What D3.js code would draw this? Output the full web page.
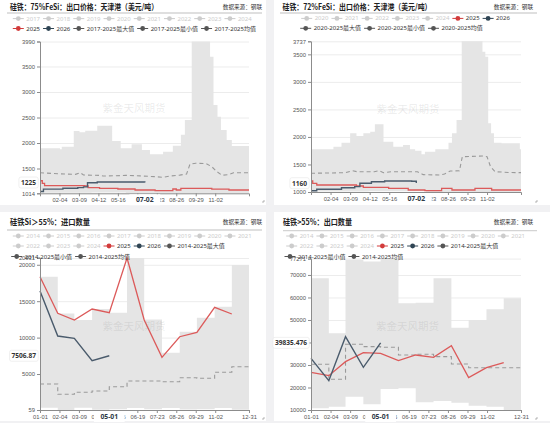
<!DOCTYPE html>
<html>
<head>
<meta charset="utf-8">
<script src="https://cdn.jsdelivr.net/npm/d3@7"></script>
<style>
  body { margin: 0; background: #f1f1f3; }
  svg { display: block; font-family: "Noto Sans", "Noto Sans CJK SC", sans-serif; }
</style>
</head>
<body>
<svg id="chart" width="550" height="423"></svg>
<script>
// ---------- data ----------
// day index in a 366-day calendar (01-01 = 0)
const monthStart = [0, 31, 60, 91, 121, 152, 182, 213, 244, 274, 305, 335];

const topTickDays = [34, 68, 102, 136, 170, 204, 238, 272, 306];
const topTickLabels = ["02-04", "03-09", "04-12", "05-16", "06-19", "07-23", "08-26", "09-29", "11-02"];
const bottomTickDays = [0, 34, 68, 102, 136, 170, 204, 238, 272, 306, 365];
const bottomTickLabels = ["01-01", "02-04", "03-09", "04-12", "05-16", "06-19", "07-23", "08-26", "09-29", "11-02", "12-31"];

// 75%FeSi export price, [day, value] change points
const fesi75Ticks = [1014, 1500, 2000, 2500, 3000, 3500, 3990];
const fesi75Max = [[0,1896],[35,1877],[38,1928],[59,2235],[69,2210],[79,2241],[100,2340],[126,2040],[141,1896],[160,1975],[178,1863],[192,1779],[215,1830],[232,1947],[246,2160],[253,2450],[265,3990],[297,3692],[303,2745],[310,2516],[316,2255],[326,2059],[335,1941],[365,1941]];
const fesi75Min = [[0,1025],[90,1030],[150,1020],[200,1014],[365,1014]];
const fesi75Mean = [[0,1418],[10,1410],[35,1395],[62,1386],[70,1418],[76,1373],[105,1365],[110,1353],[140,1360],[150,1367],[175,1355],[200,1340],[215,1328],[228,1353],[244,1370],[256,1392],[262,1588],[272,1602],[290,1598],[300,1536],[309,1437],[318,1367],[330,1380],[338,1418],[365,1418]];
const fesi75Y2025 = [[0,1260],[4,1210],[8,1163],[78,1157],[84,1124],[104,1112],[136,1098],[166,1079],[201,1065],[232,1098],[238,1079],[246,1112],[280,1112],[300,1095],[330,1079],[365,1079]];
const fesi75Y2026 = [[0,1050],[6,1095],[40,1112],[66,1125],[76,1140],[83,1222],[100,1235],[182,1235],[183,1225]];

// 72%FeSi export price
const fesi72Ticks = [1000, 1500, 2000, 2500, 3000, 3500, 3737];
const fesi72Max = [[0,1775],[39,1823],[53,1895],[68,2066],[79,2017],[91,2066],[103,2096],[111,2230],[126,1914],[143,1823],[160,1854],[172,1775],[181,1750],[192,1685],[198,1732],[216,1775],[239,1895],[245,2066],[253,2308],[262,3737],[298,3548],[303,3457],[308,2250],[313,2066],[318,1895],[331,1884],[363,1775],[365,1775]];
const fesi72Min = [[0,1010],[100,1012],[200,1000],[365,1000]];
const fesi72Mean = [[0,1340],[30,1345],[60,1351],[72,1387],[80,1369],[110,1369],[118,1387],[126,1351],[141,1369],[185,1369],[195,1315],[225,1309],[232,1327],[242,1381],[258,1385],[263,1641],[300,1654],[306,1640],[312,1460],[320,1369],[343,1355],[365,1351]];
const fesi72Y2025 = [[0,1200],[3,1158],[10,1127],[79,1109],[91,1085],[135,1067],[169,1036],[198,1024],[227,1067],[245,1036],[285,1067],[314,1036],[365,1036]];
const fesi72Y2026 = [[0,1024],[10,1049],[53,1078],[76,1097],[85,1158],[105,1187],[128,1200],[175,1195],[183,1165]];

// Si>55% imports, monthly
const importTicks = [59, 5000, 10000, 15000, 20000, 20931];
const importMax = [18360, 13300, 12420, 13930, 13420, 20931, 12500, 7925, 10810, 12730, 14240, 19970];
const importMin = [380, 59, 360, 100, 150, 320, 150, 330, 120, 150, 350, 100];
const importMean = [3629, 2215, 2490, 2668, 3258, 4040, 4040, 3945, 4494, 4410, 5235, 6004];
const import2025 = [18360, 13336, 12416, 13927, 13420, 20931, 12416, 7295, 10123, 10727, 14160, 13240];
const import2026 = [16398, 10220, 9904, 6826, 7506.87];

// Si>55% exports, monthly
const exportTicks = [10000, 20000, 30000, 40000, 50000, 60000, 70000, 77271];
const exportMax = [68530, 44070, 76800, 76000, 77271, 57400, 57600, 68530, 46580, 50000, 54750, 59640];
const exportMin = [10750, 11480, 15920, 12520, 19330, 19630, 13400, 14000, 13200, 11930, 11480, 10000];
const exportMean = [30300, 23630, 39200, 38150, 37850, 34440, 34740, 33700, 30440, 28800, 28800, 28800];
const export2025 = [26740, 25250, 31480, 35480, 35180, 31920, 34440, 33400, 38580, 24360, 28800, 31040];
const export2026 = [32960, 23030, 42580, 28980, 39835.476];

// legends: kind off / r / n / s
const legend75 = [
  [["2017","off"],["2018","off"],["2019","off"],["2020","off"],["2021","off"],["2022","off"],["2023","off"],["2024","off"]],
  [["2025","r"],["2026","n"],["2017-2025最大值","s"],["2017-2025最小值","s"],["2017-2025均值","s"]]
];
const legend72 = [
  [["2020","off"],["2021","off"],["2022","off"],["2023","off"],["2024","off"],["2025","r"],["2026","n"]],
  [["2020-2025最大值","s"],["2020-2025最小值","s"],["2020-2025均值","s"]]
];
const legendSi = [
  [["2014","off"],["2015","off"],["2016","off"],["2017","off"],["2018","off"],["2019","off"],["2020","off"],["2021","off"]],
  [["2022","off"],["2023","off"],["2024","off"],["2025","r"],["2026","n"],["2014-2025最大值","s"]],
  [["2014-2025最小值","s"],["2014-2025均值","s"]]
];

// ---------- helpers ----------
const RED = "#dc5a5a", NAVY = "#4a5b6c", GRAY = "#e5e5e5";
const svg = d3.select("#chart");

const monthlySteps = arr => arr.map((v, i) => [monthStart[i], v]).concat([[365, arr[arr.length - 1]]]);
const monthlyPoints = arr => arr.map((v, i) => [monthStart[i], v]);

function drawPanel(p) {
  const g = svg.append("g");
  g.append("rect").attr("x", p.box[0]).attr("y", p.box[1])
    .attr("width", p.box[2]).attr("height", p.box[3]).attr("fill", "#fff");

  // header
  g.append("text").attr("x", p.titleX).attr("y", p.titleY)
    .attr("font-family", "'Noto Sans CJK SC', sans-serif")
    .attr("font-size", 8.2).attr("font-weight", 700).attr("fill", "#222")
    .attr("textLength", p.titleW).attr("lengthAdjust", "spacingAndGlyphs").text(p.title);
  g.append("text").attr("x", p.sourceX).attr("y", p.titleY - 1.5).attr("text-anchor", "end")
    .attr("font-family", "'Noto Sans CJK SC', sans-serif")
    .attr("font-size", 5.6).attr("fill", "#333").text("数据来源：钢联");
  g.append("line").attr("x1", p.lineX[0]).attr("x2", p.lineX[1])
    .attr("y1", p.lineY).attr("y2", p.lineY).attr("stroke", "#d4d4d4").attr("stroke-width", 1.3);

  const x = d3.scaleLinear().domain([0, 365]).range([p.plot.x0, p.plot.x1]);
  const y = d3.scaleLinear().domain([p.ticks[0], p.ticks[p.ticks.length - 1]]).range([p.plot.y0, p.plot.y1]);
  const w = p.plot.x1 - p.plot.x0;

  // grid
  g.append("g").attr("transform", `translate(${p.plot.x0},0)`)
    .call(d3.axisLeft(y).tickValues(p.ticks.slice(1)).tickSize(-w).tickFormat(""))
    .call(a => a.select(".domain").remove())
    .call(a => a.selectAll("line").attr("stroke", "#ececec"));

  const area = d3.area().x(d => x(d[0])).y0(p.plot.y0).y1(d => y(d[1])).curve(d3.curveStepAfter);
  g.append("path").datum(p.max).attr("d", area).attr("fill", GRAY);
  g.append("path").datum(p.min).attr("d", area).attr("fill", "#fff");

  const line = c => d3.line().x(d => x(d[0])).y(d => y(d[1])).curve(c);
  g.append("path").datum(p.mean).attr("d", line(p.meanCurve)).attr("fill", "none")
    .attr("stroke", "#9a9a9a").attr("stroke-width", 1.1).attr("stroke-dasharray", "4,3");
  g.append("path").datum(p.y2025).attr("d", line(p.yearCurve)).attr("fill", "none")
    .attr("stroke", RED).attr("stroke-width", 1.3);
  g.append("path").datum(p.y2026).attr("d", line(p.yearCurve)).attr("fill", "none")
    .attr("stroke", NAVY).attr("stroke-width", 1.4);

  // axes (labels hidden under the pointer labels are left out)
  const px = x(p.pointerDay), py = y(p.pointerY);
  const yAxis = g.append("g").attr("transform", `translate(${p.plot.x0},0)`)
    .call(d3.axisLeft(y).tickValues(p.ticks).tickSize(3).tickPadding(2)
      .tickFormat(d => Math.abs(y(d) - py) < 5 ? "" : d));
  const xAxis = g.append("g").attr("transform", `translate(0,${p.plot.y0})`)
    .call(d3.axisBottom(x).tickValues(p.xDays).tickSize(3).tickPadding(2)
      .tickFormat((d, i) => Math.abs(x(d) - px) < 8 ? "" : p.xLabels[i]));
  [yAxis, xAxis].forEach(a => {
    a.select(".domain").attr("stroke", "#8c8c8c");
    a.selectAll(".tick line").attr("stroke", "#8c8c8c");
    a.selectAll("text").attr("font-size", 5.8).attr("fill", "#555");
  });

  // watermark
  g.append("text").attr("x", p.mark[0]).attr("y", p.mark[1]).attr("text-anchor", "middle")
    .attr("dominant-baseline", "central")
    .attr("font-family", "'Noto Sans CJK SC', sans-serif")
    .attr("font-size", 10.5).attr("fill", "rgba(130,130,130,0.17)").text("紫金天风期货");

  // axis pointer labels
  const yl = g.append("g");
  const yt = yl.append("text").attr("x", p.plot.x0 - 4).attr("y", py)
    .attr("text-anchor", "end").attr("dominant-baseline", "central")
    .attr("font-size", 6.6).attr("font-weight", 700).attr("fill", "#333").text(p.pointerY);
  const yb = yt.node().getBBox();
  yl.insert("rect", "text").attr("x", yb.x - 2).attr("y", yb.y - 1)
    .attr("width", yb.width + 4).attr("height", yb.height + 2).attr("rx", 2)
    .attr("fill", "#fff").attr("stroke", "#e6e6e6").attr("stroke-width", 0.6);

  const xl = g.append("g");
  const xt = xl.append("text").attr("x", px).attr("y", p.plot.y0 + 6.3)
    .attr("text-anchor", "middle").attr("dominant-baseline", "central")
    .attr("font-size", 6.8).attr("font-weight", 700).attr("fill", "#2f3a48").text(p.pointerDayLabel);
  const xb = xt.node().getBBox();
  xl.insert("rect", "text").attr("x", xb.x - 6.5).attr("y", p.plot.y0 + 1)
    .attr("width", xb.width + 13).attr("height", 11).attr("fill", "#fff");

  // legend
  p.legend.forEach((row, ri) => {
    let cx = p.legendX[ri];
    const cy = p.legendY[ri];
    row.forEach(([name, kind]) => {
      const ic = kind === "off" ? "#cccccc" : kind === "r" ? "#d23b3b" : kind === "n" ? "#2f4554" : "#555";
      const tc = kind === "off" ? "#cccccc" : "#333";
      g.append("line").attr("x1", cx - 5.5).attr("x2", cx + 5.5).attr("y1", cy).attr("y2", cy)
        .attr("stroke", ic).attr("stroke-width", 1);
      g.append("circle").attr("cx", cx).attr("cy", cy).attr("r", 2.4).attr("fill", ic);
      const t = g.append("text").attr("x", cx + 8).attr("y", cy).attr("dominant-baseline", "central")
        .attr("font-family", "'Noto Sans', 'Noto Sans CJK SC', sans-serif")
        .attr("font-size", 6).attr("fill", tc).text(name);
      cx = cx + 8 + t.node().getComputedTextLength() + 8.5;
    });
  });

  // resize corner
  g.append("path").attr("d", `M${p.corner[0] - 2},${p.corner[1]} h2 v-2`)
    .attr("fill", "none").attr("stroke", "#888").attr("stroke-width", 0.6);
}

drawPanel({
  box: [0, 0, 266, 205], title: "硅铁：75%FeSi：出口价格：天津港（美元/吨）", titleW: 148,
  titleX: 10, titleY: 10.2, sourceX: 262, lineX: [7, 262], lineY: 13,
  legend: legend75, legendX: [18.3, 18.3], legendY: [18.6, 28.5],
  plot: { x0: 40, x1: 249, y0: 193.3, y1: 41.5 }, ticks: fesi75Ticks,
  xDays: topTickDays, xLabels: topTickLabels,
  max: fesi75Max, min: fesi75Min, mean: fesi75Mean, y2025: fesi75Y2025, y2026: fesi75Y2026,
  meanCurve: d3.curveLinear, yearCurve: d3.curveStepAfter,
  pointerY: 1225, pointerDay: 183, pointerDayLabel: "07-02", mark: [134, 107], corner: [264, 202]
});
drawPanel({
  box: [274, 0, 276, 205], title: "硅铁：72%FeSi：出口价格：天津港（美元/吨）", titleW: 149,
  titleX: 282.5, titleY: 10.2, sourceX: 533, lineX: [280, 537], lineY: 13,
  legend: legend72, legendX: [306.7, 305.7], legendY: [18.4, 28.3],
  plot: { x0: 311, x1: 521, y0: 192, y1: 41.3 }, ticks: fesi72Ticks,
  xDays: topTickDays, xLabels: topTickLabels,
  max: fesi72Max, min: fesi72Min, mean: fesi72Mean, y2025: fesi72Y2025, y2026: fesi72Y2026,
  meanCurve: d3.curveLinear, yearCurve: d3.curveStepAfter,
  pointerY: 1160, pointerDay: 183, pointerDayLabel: "07-02", mark: [408, 108], corner: [537, 202]
});
drawPanel({
  box: [0, 212, 266, 209], title: "硅铁Si＞55%：进口数量", titleW: 80,
  titleX: 10, titleY: 225.4, sourceX: 262, lineX: [7, 262], lineY: 230,
  legend: legendSi, legendX: [18.3, 18.3, 16.7], legendY: [236, 246, 256.5],
  plot: { x0: 40, x1: 249, y0: 410, y1: 258 }, ticks: importTicks,
  xDays: bottomTickDays, xLabels: bottomTickLabels,
  max: monthlySteps(importMax), min: monthlySteps(importMin), mean: monthlySteps(importMean),
  y2025: monthlyPoints(import2025), y2026: monthlyPoints(import2026),
  meanCurve: d3.curveStepAfter, yearCurve: d3.curveLinear,
  pointerY: 7506.87, pointerDay: 121, pointerDayLabel: "05-01", mark: [134, 325], corner: [264, 419]
});
drawPanel({
  box: [274, 212, 276, 209], title: "硅铁>55%：出口数量", titleW: 69,
  titleX: 283, titleY: 225.4, sourceX: 533, lineX: [283, 537], lineY: 230.7,
  legend: legendSi, legendX: [291.7, 291.7, 290], legendY: [236, 246, 256.5],
  plot: { x0: 311, x1: 521, y0: 410, y1: 258.6 }, ticks: exportTicks,
  xDays: bottomTickDays, xLabels: bottomTickLabels,
  max: monthlySteps(exportMax), min: monthlySteps(exportMin), mean: monthlySteps(exportMean),
  y2025: monthlyPoints(export2025), y2026: monthlyPoints(export2026),
  meanCurve: d3.curveStepAfter, yearCurve: d3.curveLinear,
  pointerY: 39835.476, pointerDay: 121, pointerDayLabel: "05-01", mark: [407.5, 325.7], corner: [537, 419]
});
</script>
</body>
</html>
